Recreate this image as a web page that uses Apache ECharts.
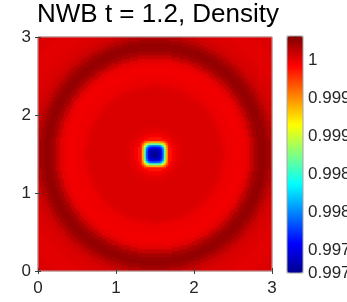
<!DOCTYPE html>
<html><head><meta charset="utf-8">
<script src="https://cdn.jsdelivr.net/npm/echarts@6/dist/echarts.min.js"></script>
<style>html,body{margin:0;padding:0;background:#fff}#c{width:347px;height:302px}</style>
</head><body><div id="c"></div>
<script>
// ---- data ----
const titleText = 'NWB t = 1.2, Density';
const axisTicks = [0, 1, 2, 3];
const cbTicks = [0.9972, 0.9975, 0.998, 0.9985, 0.999, 0.9995, 1];
const cbMin = 0.99720;
const cbMax = 1.00032;
const nCells = 117;          // cells per side over 0..3
const spotStart = 52;        // first cell index of the central spot block
// radial density profile around (1.5, 1.5): radius -> density
const ringR = [0.20, 0.25, 0.30, 0.35, 0.40, 0.50, 0.60, 0.70, 0.80, 0.85, 0.90, 0.95, 1.00, 1.05, 1.10, 1.15,
               1.20, 1.25, 1.30, 1.35, 1.40, 1.45, 1.50, 1.55, 1.60, 1.65, 1.70, 1.80, 1.90, 2.00, 2.15];
const ringV = [0.99987, 0.99996, 1.00001, 1.00003, 1.00004, 1.00004, 1.00004, 1.00004, 1.00004, 1.00003, 1.00000,
               0.99998, 0.99998, 0.99997, 0.99997, 0.99998, 1.00002, 1.00011, 1.00020, 1.00025, 1.00026, 1.00022,
               1.00015, 1.00009, 1.00006, 1.00004, 1.00003, 1.00002, 1.00002, 1.00003, 1.00002];
// central low-density spot (13 x 13 cells)
const spotRows = [
 [0.99983,0.99965,0.99951,0.99944,0.99941,0.99940,0.99940,0.99940,0.99941,0.99944,0.99951,0.99965,0.99983],
 [0.99965,0.99937,0.99906,0.99879,0.99868,0.99865,0.99865,0.99865,0.99868,0.99879,0.99906,0.99937,0.99965],
 [0.99951,0.99906,0.99840,0.99802,0.99789,0.99785,0.99785,0.99785,0.99789,0.99802,0.99840,0.99906,0.99951],
 [0.99944,0.99879,0.99802,0.99768,0.99754,0.99750,0.99750,0.99750,0.99754,0.99768,0.99802,0.99879,0.99944],
 [0.99941,0.99868,0.99789,0.99754,0.99738,0.99732,0.99732,0.99732,0.99738,0.99754,0.99789,0.99868,0.99941],
 [0.99940,0.99865,0.99785,0.99750,0.99732,0.99724,0.99722,0.99724,0.99732,0.99750,0.99785,0.99865,0.99940],
 [0.99940,0.99865,0.99785,0.99750,0.99732,0.99722,0.99722,0.99722,0.99732,0.99750,0.99785,0.99865,0.99940],
 [0.99940,0.99865,0.99785,0.99750,0.99732,0.99724,0.99722,0.99724,0.99732,0.99750,0.99785,0.99865,0.99940],
 [0.99941,0.99868,0.99789,0.99754,0.99738,0.99732,0.99732,0.99732,0.99738,0.99754,0.99789,0.99868,0.99941],
 [0.99944,0.99879,0.99802,0.99768,0.99754,0.99750,0.99750,0.99750,0.99754,0.99768,0.99802,0.99879,0.99944],
 [0.99951,0.99906,0.99840,0.99802,0.99789,0.99785,0.99785,0.99785,0.99789,0.99802,0.99840,0.99906,0.99951],
 [0.99965,0.99937,0.99906,0.99879,0.99868,0.99865,0.99865,0.99865,0.99868,0.99879,0.99906,0.99937,0.99965],
 [0.99983,0.99965,0.99951,0.99944,0.99941,0.99940,0.99940,0.99940,0.99941,0.99944,0.99951,0.99965,0.99983]
];
const jet = ['#00008f','#0000ff','#0080ff','#00ffff','#80ff80','#ffff00','#ff8000','#ff0000','#800000'];

// ---- build heatmap cells ----
const cell = 3 / nCells;
const cats = [];
for (let i = 0; i < nCells; i++) cats.push(i);
const data = [];
for (let j = 0; j < nCells; j++) {
  for (let i = 0; i < nCells; i++) {
    const si = i - spotStart, sj = j - spotStart;
    let v;
    if (si >= 0 && si < spotRows.length && sj >= 0 && sj < spotRows.length) {
      v = spotRows[sj][si];
    } else {
      const r = Math.hypot((i + 0.5) * cell - 1.5, (j + 0.5) * cell - 1.5);
      let k = 0;
      for (let m = 1; m < ringR.length; m++) if (Math.abs(ringR[m] - r) < Math.abs(ringR[k] - r)) k = m;
      v = ringV[k];
    }
    data.push([i, j, v]);
  }
}

const FONT = 'Liberation Sans';
const txt = '#262626';
const chart = echarts.init(document.getElementById('c'), null, {renderer: 'canvas'});
const valAxis = (extra) => Object.assign({
  type: 'value', gridIndex: 0, min: axisTicks[0], max: axisTicks[axisTicks.length - 1], interval: 1, z: 5,
  axisLine: {show: false}, splitLine: {show: false},
  axisTick: {show: true, inside: true, length: 3, lineStyle: {color: '#404040'}},
  axisLabel: {show: false}
}, extra);
chart.setOption({
  animation: false,
  backgroundColor: '#fff',
  title: {
    text: titleText, left: 37, top: 2, padding: 0,
    textStyle: {fontFamily: FONT, fontSize: 26, fontWeight: 'normal', color: '#000'}
  },
  grid: [
    {left: 38, top: 37, width: 234, height: 234, show: true, z: 4, containLabel: false, outerBoundsMode: 'none',
     backgroundColor: 'transparent', borderColor: '#a6a6a6', borderWidth: 1},
    {left: 287, top: 36, width: 16, height: 237, show: true, z: 10, containLabel: false, outerBoundsMode: 'none',
     backgroundColor: 'transparent', borderColor: '#a6a6a6', borderWidth: 1}
  ],
  xAxis: [
    valAxis({position: 'bottom', axisLabel: {show: true, fontFamily: FONT, fontSize: 17, color: txt, margin: 9}}),
    valAxis({position: 'top'}),
    {type: 'category', gridIndex: 0, data: cats, show: false},
    {type: 'value', gridIndex: 1, show: false, min: 0, max: 1}
  ],
  yAxis: [
    valAxis({position: 'left', axisLabel: {show: true, fontFamily: FONT, fontSize: 17, color: txt, margin: 7}}),
    valAxis({position: 'right'}),
    {type: 'category', gridIndex: 0, data: cats, show: false},
    {type: 'value', gridIndex: 1, position: 'right', min: cbMin, max: cbMax, z: 11,
     axisLine: {show: false}, splitLine: {show: false}, axisTick: {show: false},
     axisLabel: {show: true, customValues: cbTicks, fontFamily: FONT, fontSize: 17, color: txt, margin: 5,
                 formatter: (v) => String(parseFloat((+v).toFixed(5)))}}
  ],
  visualMap: {
    type: 'continuous', seriesIndex: 0, min: cbMin, max: cbMax, orient: 'vertical',
    left: 287, top: 36, itemWidth: 16, itemHeight: 237, padding: 0, calculable: false,
    inRange: {color: jet}, textStyle: {color: 'transparent'}
  },
  series: [{
    type: 'heatmap', xAxisIndex: 2, yAxisIndex: 2, data: data,
    progressive: 0, silent: true, emphasis: {disabled: true}
  }]
});
</script>
</body></html>
